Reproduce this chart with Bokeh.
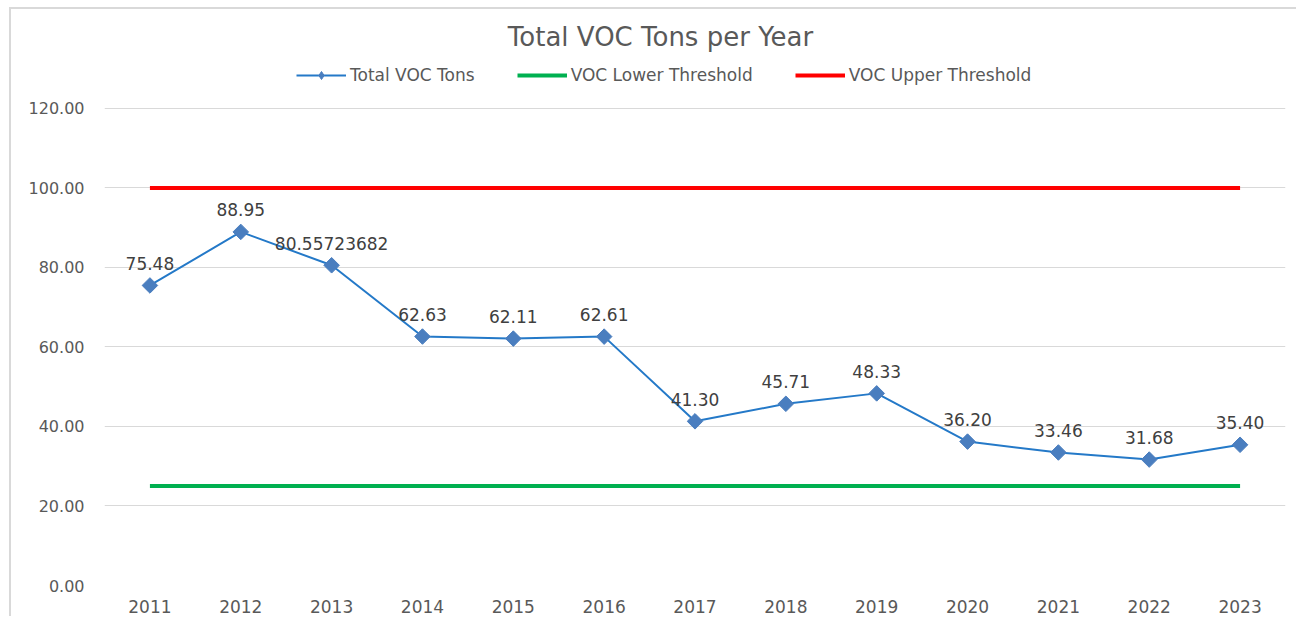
import math
from bokeh.plotting import figure
from bokeh.models import (ColumnDataSource, FactorRange, Range1d, Legend, LegendItem,
                          LabelSet, Label, PrintfTickFormatter)
from bokeh.core.properties import value
from bokeh.embed import file_html
from bokeh.resources import INLINE

years = ["2011", "2012", "2013", "2014", "2015", "2016", "2017",
         "2018", "2019", "2020", "2021", "2022", "2023"]
total_voc = [75.48, 88.95, 80.55723682, 62.63, 62.11, 62.61, 41.30,
             45.71, 48.33, 36.20, 33.46, 31.68, 35.40]
voc_labels = ["75.48", "88.95", "80.55723682", "62.63", "62.11", "62.61", "41.30",
              "45.71", "48.33", "36.20", "33.46", "31.68", "35.40"]
lower_threshold = [25, 25, 25, 25, 25, 25, 25, 25, 25, 25, 25, 25, 25]
upper_threshold = [100, 100, 100, 100, 100, 100, 100, 100, 100, 100, 100, 100, 100]
y_ticks = [0, 20, 40, 60, 80, 100, 120]

FONT = "DejaVu Sans"
TXT = "#595959"

src = ColumnDataSource(dict(x=years, y=total_voc, lab=voc_labels,
                            lo=lower_threshold, hi=upper_threshold))

# frame spans the full height; the space above 120 holds the title and legend
p = figure(x_range=FactorRange(*years, range_padding=0), y_range=Range1d(0, 144.9),
           width=1287, height=609, output_backend="svg", toolbar_location=None,
           min_border_left=93, min_border_right=13, min_border_top=0, min_border_bottom=33,
           margin=(7, 0, 0, 9))
p.styles = {"border-left": "2px solid #D9D9D9", "border-top": "2px solid #D9D9D9"}
p.outline_line_color = None
p.background_fill_color = "white"

p.xgrid.grid_line_color = None
p.ygrid.grid_line_color = "#D9D9D9"
p.ygrid.grid_line_width = 1
p.yaxis.ticker = y_ticks
p.yaxis.formatter = PrintfTickFormatter(format="%.2f")
for ax in (p.xaxis, p.yaxis):
    ax.axis_line_color = None
    ax.major_tick_line_color = None
    ax.minor_tick_line_color = None
    ax.major_label_text_font = FONT
    ax.major_label_text_color = TXT
p.yaxis.major_label_text_font_size = "16px"
p.xaxis.major_label_text_font_size = "17px"
p.yaxis.major_label_standoff = 14
p.xaxis.major_label_standoff = 8

r_lo = p.line("x", "lo", source=src, line_color="#00B050", line_width=4)
r_hi = p.line("x", "hi", source=src, line_color="#FF0000", line_width=4)
r_line = p.line("x", "y", source=src, line_color="#2479C8", line_width=2)
r_pts = p.scatter("x", "y", source=src, marker="square", angle=math.pi / 4, size=11,
                  fill_color="#4A7EBF", line_color="#4A7EBF")
# legend-only diamond glyph (NaN value, never drawn in the plot)
leg_src = ColumnDataSource(dict(x=[years[0]], y=[float("nan")]))
r_leg = p.scatter("x", "y", source=leg_src, marker="diamond", size=16,
                  fill_color="#4A7EBF", line_color="#4A7EBF")

labels = LabelSet(x="x", y="y", text="lab", source=src, y_offset=22,
                  text_align="center", text_baseline="middle",
                  text_font=value(FONT), text_font_size="17px", text_color="#404040")
p.add_layout(labels)

legend = Legend(items=[
    LegendItem(label="Total VOC Tons", renderers=[r_line, r_leg]),
    LegendItem(label="VOC Lower Threshold", renderers=[r_lo]),
    LegendItem(label="VOC Upper Threshold", renderers=[r_hi]),
], orientation="horizontal", location=(192, 500), padding=0, margin=0, spacing=42,
    glyph_width=50, glyph_height=20, label_standoff=4,
    label_text_font=FONT, label_text_font_size="17px", label_text_color=TXT,
    border_line_color=None, background_fill_alpha=0)
p.add_layout(legend, "center")

title = Label(x=556, y=549, x_units="screen", y_units="screen", text="Total VOC Tons per Year",
              text_align="center", text_baseline="middle", text_font=FONT,
              text_font_size="26px", text_color=TXT)
p.add_layout(title)

open("out.html", "w").write(file_html(p, INLINE))
